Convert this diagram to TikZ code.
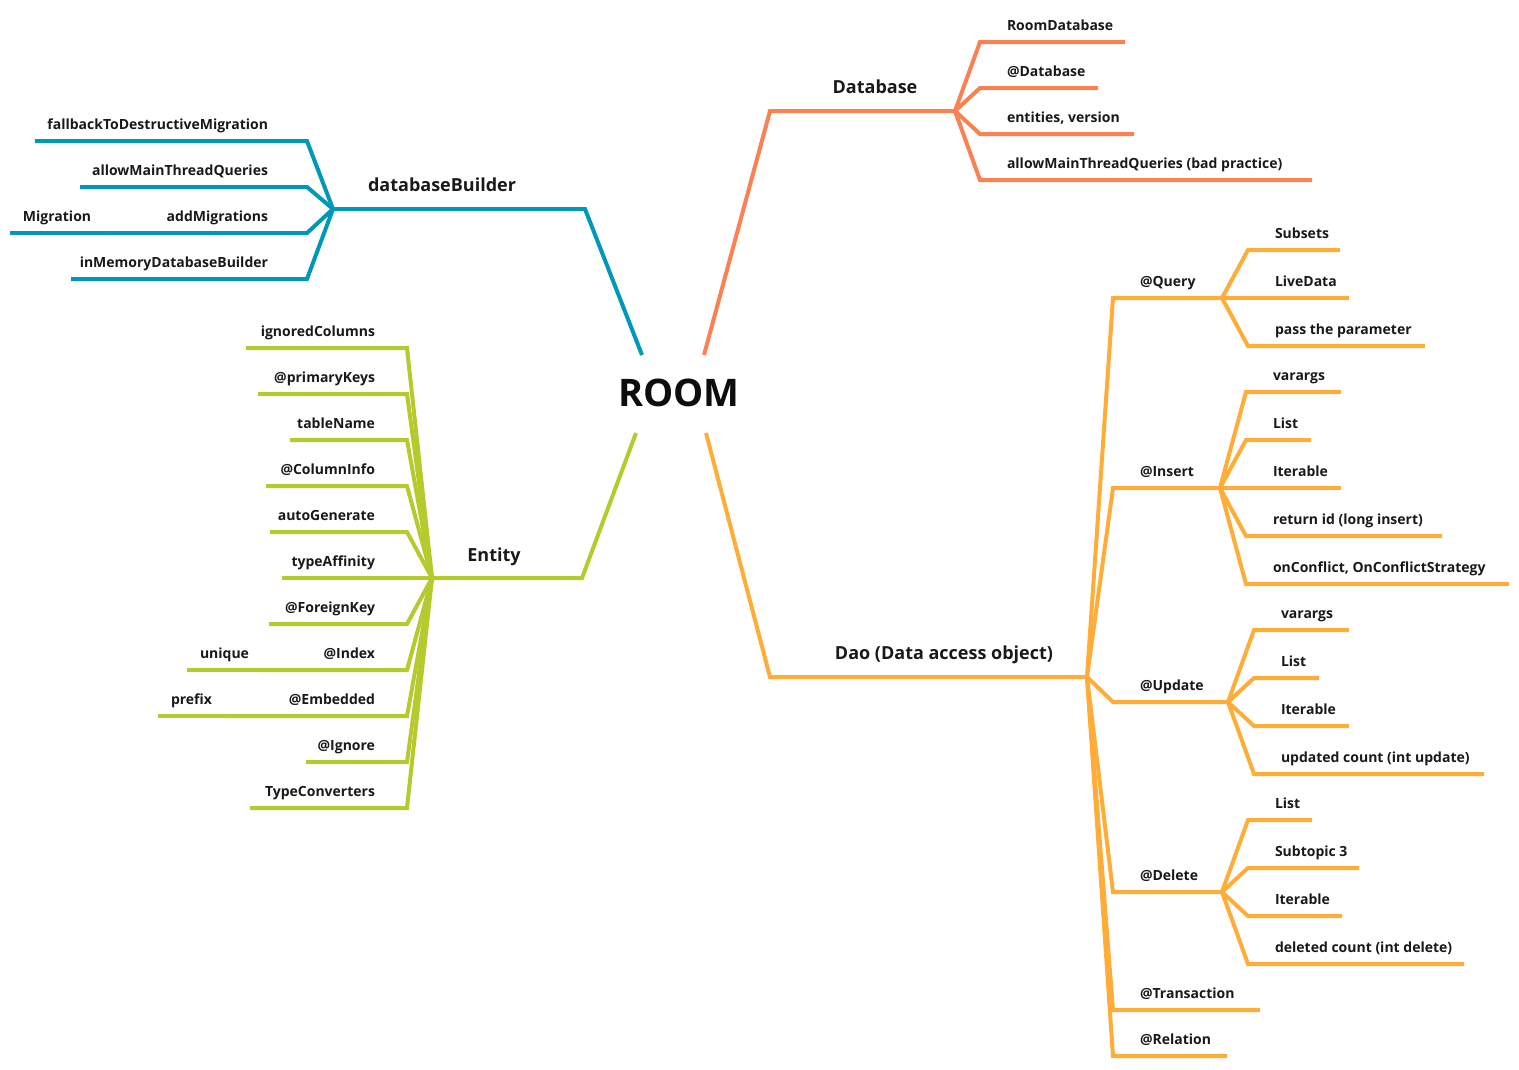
\documentclass[tikz,border=0pt]{standalone}
\usepackage{fontspec}
\setmainfont{Open Sans}
\definecolor{bldblue}{RGB}{0,152,185}
\definecolor{dbred}{RGB}{251,128,84}
\definecolor{entgreen}{RGB}{181,202,44}
\definecolor{daoorange}{RGB}{255,172,56}
\tikzset{
  lbl/.style={font=\bfseries\fontsize{14}{16}\selectfont,inner sep=0pt,text=black!90},
  main/.style={font=\bfseries\fontsize{18}{21}\selectfont,inner sep=0pt,text=black!90},
  twig/.style={line width=4pt}
}
\def\lgap{31}
% right twig: parent, name, corner x, y, end x, text
\newcommand\RB[6]{\coordinate (#2) at (#3,#4); \coordinate (#2-e) at (#5,#4);
  \draw (#1) -- (#2) -- (#2-e);
  \node[lbl,anchor=base west] (#2-t) at ([xshift=25pt,yshift=12pt]#2) {#6};}
% left twig: parent, name, corner x, y, end x, text
\newcommand\LB[6]{\coordinate (#2) at (#3,#4); \coordinate (#2-e) at (#5,#4);
  \draw (#1) -- (#2) -- (#2-e);
  \node[lbl,anchor=base east] (#2-t) at ([xshift=-\lgap pt,yshift=12pt]#2) {#6};}
% left twig that goes on from another one: parent, name, end x, text
\newcommand\LX[4]{\coordinate (#2-e) at (#3,0 |- #1-e);
  \draw (#1-e) -- (#2-e);
  \node[lbl,anchor=base west] (#2-t) at ([xshift=11pt,yshift=12pt]#2-e) {#4};}

\begin{document}
\begin{tikzpicture}[x=1pt,y=-1pt]
\useasboundingbox (0,0) rectangle (1519,1069);
\node[font=\bfseries\fontsize{38}{42}\selectfont,text=black!95] (room) at (679,393) {ROOM};

% databaseBuilder
\begin{scope}[draw=bldblue,twig]
\def\lgap{37}
\coordinate (bld0) at (642,355);
\coordinate (bld1) at (585,209);
\coordinate (bld) at (333,209);
\draw (bld0) -- (bld1) -- (bld);
\node[main,anchor=base] (bld-t) at (442,191) {databaseBuilder};
\LB{bld}{fallback}{307}{141}{35}{fallbackToDestructiveMigration}
\LB{bld}{allowmt}{307}{187}{80}{allowMainThreadQueries}
\LB{bld}{addmig}{307}{233}{109}{addMigrations}
\LX{addmig}{mig}{10}{Migration}
\LB{bld}{inmem}{307}{279}{71}{inMemoryDatabaseBuilder}
\end{scope}

% Database
\begin{scope}[draw=dbred,twig]
\coordinate (db0) at (704,355);
\coordinate (db1) at (770,111);
\coordinate (db) at (955,111);
\draw (db0) -- (db1) -- (db);
\node[main,anchor=base] (db-t) at (875,93) {Database};
\RB{db}{roomdb}{980}{42}{1125}{RoomDatabase}
\RB{db}{atdb}{980}{88}{1098}{@Database}
\RB{db}{ents}{980}{134}{1134}{entities, version}
\RB{db}{allowq}{980}{180}{1312}{allowMainThreadQueries (bad practice)}
\end{scope}

% Entity
\begin{scope}[draw=entgreen,twig]
\def\lgap{30}
\coordinate (ent0) at (636,433);
\coordinate (ent1) at (582,578);
\coordinate (ent) at (432,578);
\draw (ent0) -- (ent1) -- (ent);
\node[main,anchor=base] (ent-t) at (494,561) {Entity};
\LB{ent}{igncol}{407}{348}{246}{ignoredColumns}
\LB{ent}{pkeys}{407}{394}{258}{@primaryKeys}
\LB{ent}{tname}{407}{440}{290}{tableName}
\LB{ent}{colinfo}{407}{486}{266}{@ColumnInfo}
\LB{ent}{autogen}{407}{532}{270}{autoGenerate}
\LB{ent}{affin}{407}{578}{282}{typeAffinity}
\LB{ent}{fkey}{407}{624}{269}{@ForeignKey}
\LB{ent}{index}{407}{670}{260}{@Index}
\LX{index}{unique}{187}{unique}
\LB{ent}{embed}{407}{716}{225}{@Embedded}
\LX{embed}{prefix}{158}{prefix}
\LB{ent}{ignore}{407}{762}{306}{@Ignore}
\LB{ent}{tconv}{407}{808}{250}{TypeConverters}
\end{scope}

% Dao
\begin{scope}[draw=daoorange,twig]
\coordinate (dao0) at (706,433);
\coordinate (dao1) at (770,677);
\coordinate (dao) at (1087,677);
\draw (dao0) -- (dao1) -- (dao);
\node[main,anchor=base] (dao-t) at (944,659) {Dao (Data access object)};
\RB{dao}{query}{1113}{298}{1222}{@Query}
\RB{query-e}{subsets}{1248}{250}{1340}{Subsets}
\RB{query-e}{live}{1248}{298}{1349}{LiveData}
\RB{query-e}{pass}{1248}{346}{1425}{pass the parameter}
\RB{dao}{insert}{1113}{488}{1220}{@Insert}
\RB{insert-e}{ivar}{1246}{392}{1341}{varargs}
\RB{insert-e}{ilist}{1246}{440}{1311}{List}
\RB{insert-e}{iiter}{1246}{488}{1341}{Iterable}
\RB{insert-e}{iret}{1246}{536}{1442}{return id (long insert)}
\RB{insert-e}{iconf}{1246}{584}{1509}{onConflict, OnConflictStrategy}
\RB{dao}{update}{1113}{702}{1228}{@Update}
\RB{update-e}{uvar}{1254}{630}{1349}{varargs}
\RB{update-e}{ulist}{1254}{678}{1319}{List}
\RB{update-e}{uiter}{1254}{726}{1349}{Iterable}
\RB{update-e}{ucount}{1254}{774}{1484}{updated count (int update)}
\RB{dao}{delete}{1113}{892}{1222}{@Delete}
\RB{delete-e}{dlist}{1248}{820}{1312}{List}
\RB{delete-e}{dsub}{1248}{868}{1359}{Subtopic 3}
\RB{delete-e}{diter}{1248}{916}{1342}{Iterable}
\RB{delete-e}{dcount}{1248}{964}{1464}{deleted count (int delete)}
\RB{dao}{trans}{1113}{1010}{1260}{@Transaction}
\RB{dao}{rel}{1113}{1056}{1227}{@Relation}
\end{scope}
\end{tikzpicture}
\end{document}
